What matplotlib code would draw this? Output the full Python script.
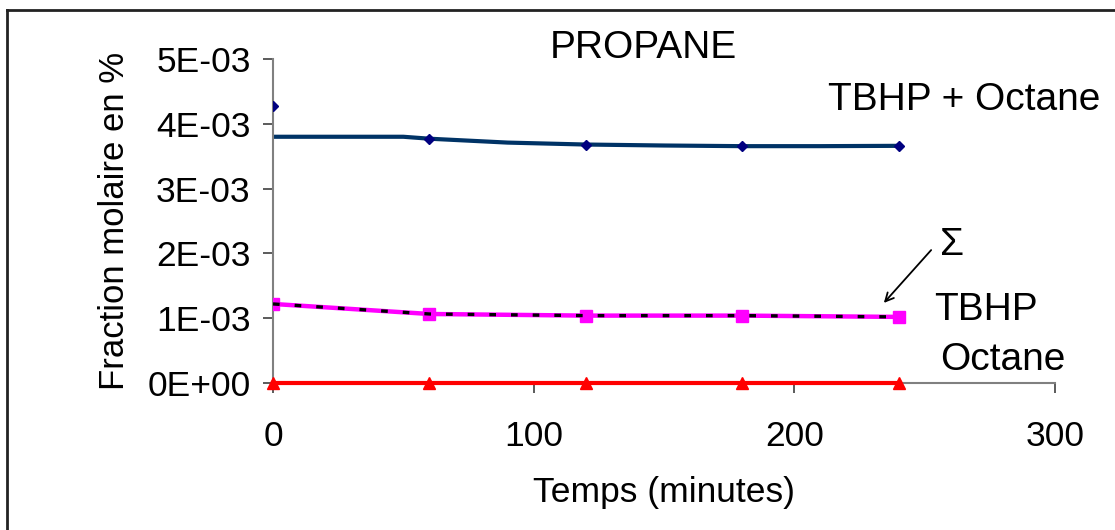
import matplotlib
matplotlib.use("Agg")
import matplotlib.pyplot as plt
from matplotlib.lines import Line2D
from matplotlib.ticker import FuncFormatter

plt.rcParams['font.family'] = ['Liberation Sans', 'DejaVu Sans']

# Data
temps = [0, 60, 120, 180, 240]
tbhp_octane = [4.27e-3, 3.77e-3, 3.67e-3, 3.66e-3, 3.66e-3]
fit_t = [0, 50, 60, 90, 120, 150, 180, 210, 240]
fit_y = [3.80e-3, 3.80e-3, 3.77e-3, 3.71e-3, 3.68e-3, 3.665e-3, 3.655e-3, 3.655e-3, 3.66e-3]
tbhp = [1.22e-3, 1.065e-3, 1.04e-3, 1.04e-3, 1.02e-3]
sigma = [1.22e-3, 1.065e-3, 1.04e-3, 1.04e-3, 1.02e-3]
octane = [0.0, 0.0, 0.0, 0.0, 0.0]
xticks = [0, 100, 200, 300]
yticks = [0, 1e-3, 2e-3, 3e-3, 4e-3, 5e-3]

fig = plt.figure(figsize=(11.15, 5.30), dpi=100)
ax = fig.add_axes([273/1115, 1-383/530, (1055-273)/1115, (383-59)/530])

ax.plot(fit_t, fit_y, color='#003366', lw=3, zorder=2)
ax.plot(temps, tbhp_octane, ls='none', marker='D', ms=5, color='#000080', zorder=3)
ax.plot(temps, tbhp, color='#FF00FF', lw=3.2, marker='s', ms=9, zorder=3)
ax.plot(temps, sigma, color='black', lw=2.4, ls=(0, (2, 4.5)), zorder=4)
ax.plot(temps, octane, color='#FF0000', lw=3, marker='^', ms=9, zorder=3, clip_on=False)

ax.set_xlim(0, 300)
ax.set_ylim(0, 5e-3)
ax.set_xticks(xticks)
ax.set_yticks(yticks)
ax.yaxis.set_major_formatter(FuncFormatter(lambda v, p: f"{v:.0E}"))
for s in ['top', 'right']:
    ax.spines[s].set_visible(False)
for s in ['left', 'bottom']:
    ax.spines[s].set_color('#808080')
    ax.spines[s].set_linewidth(1.5)
ax.tick_params(axis='both', direction='out', length=7, width=1.2, color='#404040',
               labelsize=25.5, pad=9)
ax.tick_params(axis='x', pad=20)
ax.set_xlabel('Temps (minutes)', fontsize=25.5, labelpad=16)
ax.set_ylabel('Fraction molaire en %', fontsize=25, labelpad=12)

tk = dict(transform=fig.transFigure, ha='center', va='center', fontsize=28)
fig.text(643/1115, 1-48/530, 'PROPANE', **tk)
fig.text(964/1115, 1-100/530, 'TBHP + Octane', **tk)
fig.text(952/1115, 1-245/530, 'Σ', **tk)
fig.text(986/1115, 1-310/530, 'TBHP', **tk)
fig.text(1003/1115, 1-360/530, 'Octane', **tk)
ax.annotate('', xy=(882/1115, 1-305/530), xytext=(933/1115, 1-248/530),
            xycoords='figure fraction', textcoords='figure fraction',
            arrowprops=dict(arrowstyle='->', color='black', lw=1.3, mutation_scale=15))

fig.add_artist(Line2D([7/1115, 1], [1-10/530, 1-10/530], transform=fig.transFigure, color='#222222', lw=2))
fig.add_artist(Line2D([7/1115, 7/1115], [0, 1-10/530], transform=fig.transFigure, color='#222222', lw=2))

fig.savefig('out.png', dpi=100)
